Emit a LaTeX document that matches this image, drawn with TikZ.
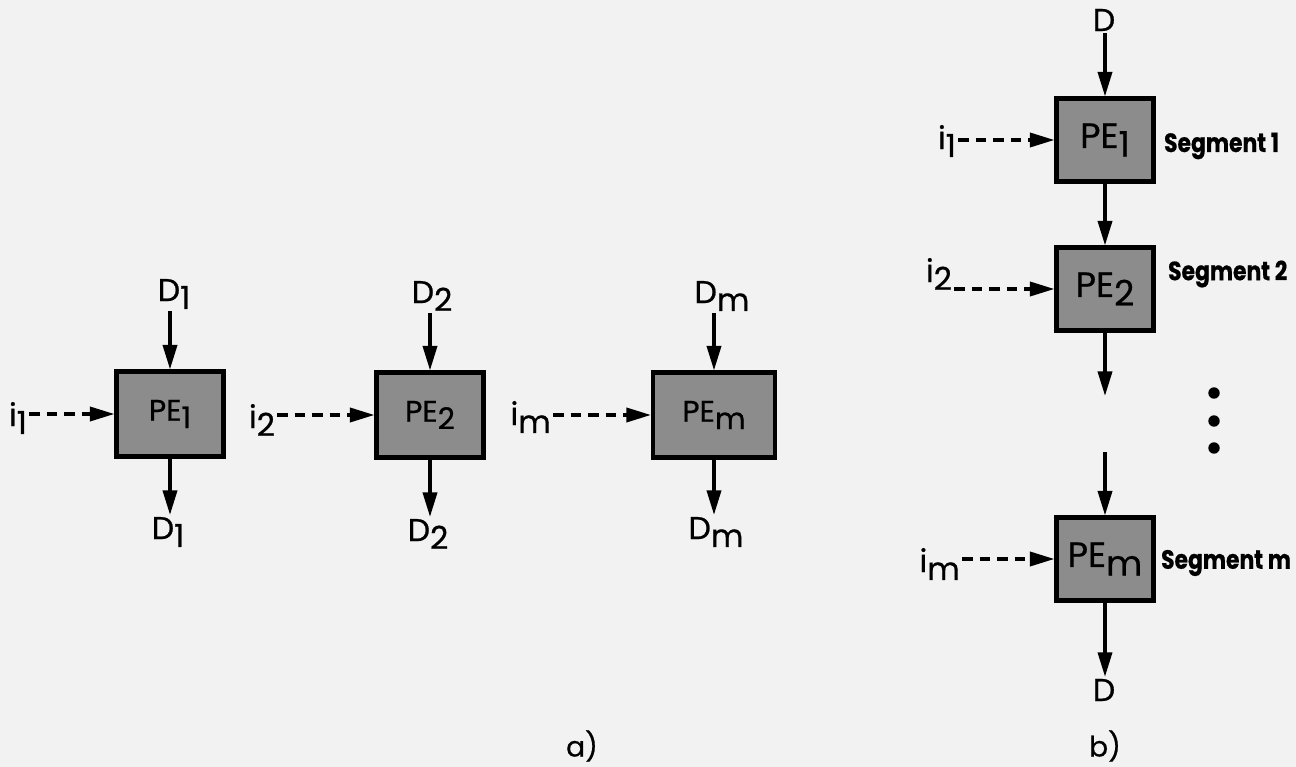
\documentclass[tikz,border=0pt]{standalone}
\usepackage{fontspec}
\setmainfont{Poppins}[FakeBold=0.6]
\usetikzlibrary{arrows.meta}
\tikzset{
  flow/.style={line width=2pt, -{Triangle[length=14pt, width=8pt]}},
  instr/.style={flow, dash pattern=on 6pt off 4pt},
  pebox/.style={draw, line width=2.3pt, fill=black!45, inner sep=0pt,
    minimum width=2.14cm, minimum height=1.7cm, font=\fontsize{17}{19}\selectfont},
  pebig/.style={pebox, minimum width=1.94cm, minimum height=1.66cm,
    font=\fontsize{20}{22}\selectfont},
  plabel/.style={font=\fontsize{18}{20}\selectfont, inner sep=1pt},
  seglabel/.style={font=\bfseries\fontsize{15}{17}\selectfont, anchor=west, inner sep=1pt},
  caption/.style={font=\fontsize{16}{18}\selectfont},
  dot/.style={circle, fill, inner sep=0pt, minimum size=6.5pt},
}
\newcommand{\lo}[1]{\raisebox{-0.45ex}{#1}}
\newcommand{\seg}[1]{\scalebox{0.83}[1]{#1}}

\begin{document}
\begin{tikzpicture}[x=0.02cm, y=-0.02cm]
  \useasboundingbox[fill=black!5] (0,0) rectangle (1296,767);
  % a) elements side by side, each with its own data stream
  \node[pebox] (pe1) at (170,414) {PE\lo{1}};
  \node[pebox] (pe2) at (430,415) {PE\lo{2}};
  \node[pebox, minimum width=2.44cm] (pem) at (714,415) {PE\lo{m}};
  \node[plabel] (d1in) at (174,294) {D\lo{1}};
  \node[plabel] (d2in) at (432,296) {D\lo{2}};
  \node[plabel] (dmin) at (722,296) {D\lo{m}};
  \node[plabel] (d1out) at (168,532) {D\lo{1}};
  \node[plabel] (d2out) at (428,534) {D\lo{2}};
  \node[plabel] (dmout) at (716,532) {D\lo{m}};
  \node[plabel, anchor=east] (i1) at (29,418) {i\lo{1}};
  \node[plabel, anchor=east] (i2) at (277,420) {i\lo{2}};
  \node[plabel, anchor=east] (im) at (553,417) {i\lo{m}};
  \draw[flow] (d1in.south -| pe1) -- (pe1);
  \draw[flow] (d2in.south -| pe2) -- (pe2);
  \draw[flow] (dmin.south -| pem) -- (pem);
  \draw[flow] (pe1) -- (d1out.north -| pe1);
  \draw[flow] (pe2) -- (d2out.north -| pe2);
  \draw[flow] (pem) -- (dmout.north -| pem);
  \draw[instr] (i1.east |- pe1) -- (pe1);
  \draw[instr] (i2.east |- pe2) -- (pe2);
  \draw[instr] (im.east |- pem) -- (pem);
  \node[caption] (capa) at (582,746) {a)};
  % b) one data stream through a chain of segments
  \node[pebig] (qe1) at (1105,140) {PE\lo{1}};
  \node[pebig] (qe2) at (1105,289) {PE\lo{2}};
  \node[pebig] (qem) at (1105,559) {PE\lo{m}};
  \node[plabel] (din) at (1104,20) {D};
  \node[plabel] (dout) at (1104,690) {D};
  \coordinate (gapa) at (1105,396);
  \coordinate (gapb) at (1105,452);
  \node[plabel, anchor=east] (j1) at (958,141) {i\lo{1}};
  \node[plabel, anchor=east] (j2) at (954,274) {i\lo{2}};
  \node[plabel, anchor=east] (jm) at (962,564) {i\lo{m}};
  \node[seglabel] (seg1) at (1162,146) {\seg{Segment 1}};
  \node[seglabel] (seg2) at (1166,274) {\seg{Segment 2}};
  \node[seglabel] (segm) at (1159,563) {\seg{Segment m}};
  \draw[flow] (din.south -| qe1) -- (qe1);
  \draw[flow] (qe1) -- (qe2);
  \draw[flow] (qe2) -- (gapa);
  \draw[flow] (gapb) -- (qem);
  \draw[flow] (qem) -- (dout.north -| qem);
  \draw[instr] (j1.east |- qe1) -- (qe1);
  \draw[instr] (j2.east |- qe2) -- (qe2);
  \draw[instr] (jm.east |- qem) -- (qem);
  \node[dot] (v1) at (1214,393) {};
  \node[dot] (v2) at (1214,421) {};
  \node[dot] (v3) at (1214,448) {};
  \node[caption] (capb) at (1105,746) {b)};
\end{tikzpicture}
\end{document}
